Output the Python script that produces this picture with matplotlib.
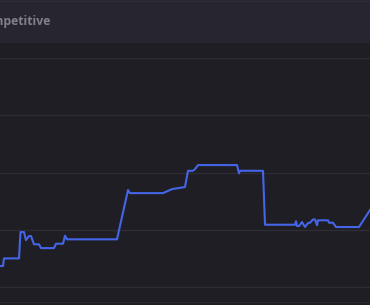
import matplotlib
matplotlib.use("Agg")
from matplotlib import pyplot as plt
from matplotlib.patches import Rectangle

# match index and rating
matches = [0, 3, 4, 19, 20.5, 24, 26, 29, 31, 34, 39, 41, 54, 56, 63, 65, 67, 117, 128, 130,
           163, 172, 185, 188, 193, 195, 198, 237, 239, 240, 263, 265, 295, 296, 297, 299,
           302, 305, 308, 310, 313, 315, 317, 318, 328, 329, 333, 336, 359, 370]
rating = [36.7, 36.7, 50, 50, 96, 96, 82, 89, 89, 74.6, 74.6, 68, 68, 75.6, 75.6, 89.6, 83.3, 83.3, 169.4, 164,
          164, 171, 174.7, 203, 203, 206, 213, 213, 198.6, 203, 203, 108.8, 108.8, 115, 106.5, 106.5,
          113.5, 104.8, 111.8, 112.3, 118, 118, 107.8, 116.5, 116.5, 112.3, 112.3, 104.8, 104.8, 134.5]
grid_vals = [0, 100, 200, 300, 400]
title = "Competitive"

bg = "#1f1e24"
header = "#27252f"
gridc = "#2e2c35"

fig = plt.figure(figsize=(3.7, 3.05), dpi=100)
fig.patch.set_facecolor(bg)

# header band
fig.patches.append(Rectangle((0, 1 - 43/305), 1, 43/305, transform=fig.transFigure,
                             facecolor=header, edgecolor="none", zorder=0))
fig.patches.append(Rectangle((0, 1 - 2/305), 1, 1/305, transform=fig.transFigure,
                             facecolor="#302e38", edgecolor="none", zorder=1))
fig.text(51/370, 1 - 22/305, title, ha="right", va="center", fontsize=8.8,
         family="Open Sans", fontweight="bold", color="#817f8a")

ax = fig.add_axes([0, 2/305, 1, (303 - 58)/305])
ax.set_facecolor(bg)
ax.plot(matches, rating, color="#4565e8", lw=1.5, solid_joinstyle="round")
ax.set_xlim(0, 370)
ax.set_ylim(-27.9, 400)
for g in grid_vals:
    ax.axhline(g, color=gridc, lw=1, zorder=0)
ax.axhline(-27.9, color="#2a2930", lw=1.5, zorder=0)
ax.set_xticks([])
ax.set_yticks([])
for s in ax.spines.values():
    s.set_visible(False)

plt.savefig("out.png", dpi=100, facecolor=bg)
